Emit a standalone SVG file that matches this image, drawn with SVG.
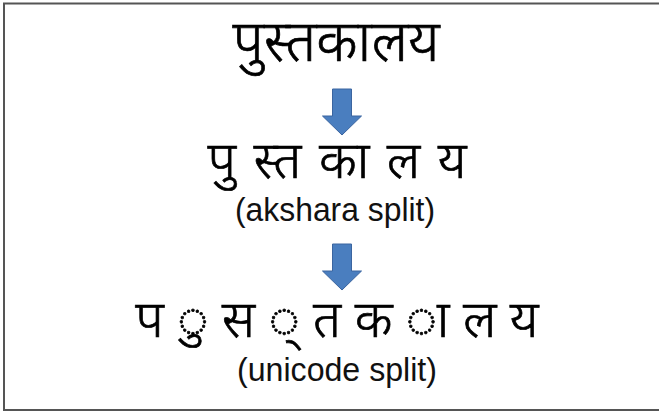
<svg xmlns="http://www.w3.org/2000/svg" width="659" height="414" viewBox="0 0 659 414">
  <style>
    .dev { font-family: "Noto Sans", "Liberation Sans", sans-serif; fill: #000; stroke: #000; stroke-width: 0.7px; text-anchor: middle; font-size: 52px; font-weight: 350; }
    .title { font-size: 57px; }
    .cap { font-family: "Liberation Sans", Arial, sans-serif; fill: #111; text-anchor: middle; font-size: 34px; }
    .arrow { fill: #4A7EBF; stroke: #3B65A0; stroke-width: 1; }
  </style>
  <defs>
    <path id="down" class="arrow" d="M -9.5 0 H 9.5 V 27 H 19.5 L 0 46 L -19.5 27 H -9.5 Z"/>
  </defs>
  <rect x="4" y="3.5" width="670" height="406.5" fill="#fff" stroke="#555" stroke-width="2"/>

  <g id="word">
    <text class="dev title" x="336" y="61">पुस्तकालय</text>
  </g>

  <g id="akshara">
    <text class="dev" x="337" y="178" word-spacing="4">पु स्त का ल य</text>
    <text class="cap" x="335" y="221" textLength="200" lengthAdjust="spacingAndGlyphs">(akshara split)</text>
  </g>

  <g id="unicode">
    <text class="dev" x="337" y="337">प ◌ु स ◌् त क ◌ा ल य</text>
    <text class="cap" x="337" y="381" textLength="200" lengthAdjust="spacingAndGlyphs">(unicode split)</text>
  </g>

  <g id="connectors">
    <use href="#down" x="342" y="89"/>
    <use href="#down" x="342" y="244"/>
  </g>
</svg>
